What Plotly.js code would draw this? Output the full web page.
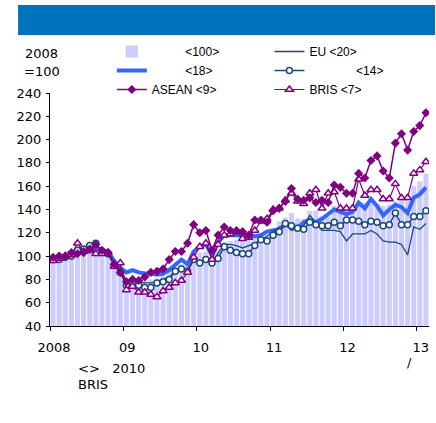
<!DOCTYPE html>
<html>
<head>
<meta charset="utf-8">
<script src="https://cdn.plot.ly/plotly-3.0.1.min.js"></script>
<style>html,body{margin:0;padding:0;background:#fff;}#chart{width:436px;height:423px;}</style>
</head>
<body>
<div id="chart"></div>
<script>
// Monthly index, Jan 2008 .. Feb 2013 (2008 = 100)
const months = Array.from({length: 62}, (_, i) => i + 0.5);
const tickVals = [0, 12, 24, 36, 48, 60];
const tickText = ['2008', '09', '10', '11', '12', '13'];
const yTicks = [40, 60, 80, 100, 120, 140, 160, 180, 200, 220, 240];

const NB = '\u00A0';
const nameWorld = NB.repeat(10) + '<100>';
const nameBlue = NB.repeat(10) + '<18>';
const nameEU = 'EU <20>';
const nameCirc = NB.repeat(14) + '<14>';
const nameASEAN = 'ASEAN <9>';
const nameBRIS = 'BRIS <7>';

const world = [96,97,99,100,101,102,103,102,102,100,92,83,
               79,78,78,79,80,81,84,87,90,93,95,99,
               103,104,102,106,112,113,114,115,116,117,117,118,
               124,130,133,137,132,132,139,139,134,134,143,143,
               142,143,145,146,145,145,143,144,147,150,152,160,
               164,171];
const blue = [97,98,99,101,103,104,104,107,105,104,96,90,
              86,88,86,85,85,84,85,88,92,97,93,104,
              108,110,101,112,118,118,118,117,118,117,118,121,
              122,123,127,126,124,129,131,129,132,136,140,138,
              136,138,146,141,149,143,135,140,144,142,137,150,
              153,159];
const eu = [97,98,99,100,103,104,106,109,106,104,95,89,
            79,79,78,77,77,78,80,82,87,89,88,97,
            94,98,95,103,110,110,109,107,109,111,114,117,
            121,125,127,122,124,126,135,129,122,122,122,121,
            113,119,119,119,122,119,113,112,112,110,101,125,
            123,128];
const circ = [97,97,99,100,105,106,109,111,104,102,92,86,
              75,78,75,73,73,77,78,80,87,89,87,97,
              94,97,94,98,108,105,103,102,102,109,114,113,
              118,121,128,126,124,123,129,127,126,126,129,126,
              131,131,130,127,130,129,126,127,137,127,127,134,
              134,139];
const asean = [99,100,100,103,102,103,106,110,105,103,93,86,
               78,80,79,82,86,87,89,97,104,104,111,127,
               120,122,105,118,125,122,122,121,118,131,131,129,
               139,141,147,158,149,148,150,146,148,146,161,159,
               154,154,171,167,182,186,173,167,197,205,191,207,
               212,223];
const bris = [96,98,100,101,111,104,105,102,102,103,91,94,
              71,74,69,69,67,65,70,73,77,79,86,99,
              108,111,97,110,118,119,121,115,116,122,130,132,
              140,141,148,154,147,145,154,157,141,154,155,141,
              141,141,166,152,157,157,149,149,162,150,150,171,
              174,181];

const navy = '#1B4A7A', purple = '#800080';

const traces = [
  {type:'bar', x: months, y: world, name: nameWorld, legend:'legend',
   marker:{color:'#CCCCFF', line:{width:0}}, hoverinfo:'skip'},
  {type:'scatter', mode:'lines', x: months, y: blue, name: nameBlue, legend:'legend',
   line:{color:'#3366FF', width:4}},
  {type:'scatter', mode:'lines', x: months, y: eu, name: nameEU, legend:'legend2',
   line:{color:navy, width:1.3}},
  {type:'scatter', mode:'lines+markers', x: months, y: circ, name: nameCirc, legend:'legend2',
   line:{color:navy, width:1.5},
   marker:{symbol:'circle', size:6, color:'#ffffff', line:{color:navy, width:1.5}}},
  {type:'scatter', mode:'lines+markers', x: months, y: bris, name: nameBRIS, legend:'legend2',
   line:{color:purple, width:1.2},
   marker:{symbol:'triangle-up', size:7, color:'#ffffff', line:{color:purple, width:1.5}}},
  {type:'scatter', mode:'lines+markers', x: months, y: asean, name: nameASEAN, legend:'legend',
   line:{color:purple, width:1.5},
   marker:{symbol:'diamond', size:7, color:purple}}
];

const legFont = {family:'Liberation Sans, Arial, sans-serif', size:12, color:'#000'};

const layout = {
  width: 436, height: 423,
  margin: {l:50, r:7, t:93, b:97, pad:0},
  paper_bgcolor:'#fff', plot_bgcolor:'#fff',
  font: {family:'DejaVu Sans, sans-serif', size:13, color:'#000'},
  bargap: 0.17,
  showlegend: true,
  legend: {x: (112-50)/380, xanchor:'left', y: (326-37)/233, yanchor:'top',
           orientation:'v', font: legFont, bgcolor:'rgba(0,0,0,0)', tracegroupgap:0},
  legend2: {x: (270-50)/380, xanchor:'left', y: (326-37)/233, yanchor:'top',
           orientation:'v', font: legFont, bgcolor:'rgba(0,0,0,0)', tracegroupgap:0},
  xaxis: {range:[0, 62], tickmode:'array', tickvals: tickVals, ticktext: tickText,
          showgrid:false, zeroline:false, showline:true, linecolor:'#000', linewidth:1,
          ticks:'outside', ticklen:4, tickcolor:'#000', ticklabelstandoff:5, ticklabelshift:4,
          fixedrange:true},
  yaxis: {range:[40, 240], tickmode:'array', tickvals: yTicks,
          showgrid:false, zeroline:false, showline:true, linecolor:'#000', linewidth:1,
          ticks:'outside', ticklen:3, tickcolor:'#000', ticklabelstandoff:2, fixedrange:true},
  shapes: [
    {type:'rect', xref:'paper', yref:'paper', x0:(18-50)/380, x1:(436-50)/380,
     y0:(326-35)/233, y1:(326-5)/233, fillcolor:'#0072BC', line:{width:0}, layer:'above'}
  ],
  annotations: [
    {xref:'paper', yref:'paper', x:(41-50)/380, y:(326-54)/233, text:'2008', showarrow:false,
     xanchor:'center', yanchor:'middle'},
    {xref:'paper', yref:'paper', x:(42-50)/380, y:(326-71)/233, text:'=100', showarrow:false,
     xanchor:'center', yanchor:'middle'},
    {xref:'paper', yref:'paper', x:(76-50)/380, y:(326-368)/233, text:'<>' + NB.repeat(3) + '2010', showarrow:false,
     xanchor:'left', yanchor:'middle'},
    {xref:'paper', yref:'paper', x:(76-50)/380, y:(326-384)/233, text:'BRIS', showarrow:false,
     xanchor:'left', yanchor:'middle'},
    {xref:'paper', yref:'paper', x:(410-50)/380, y:(326-362)/233, text:'/', showarrow:false,
     xanchor:'center', yanchor:'middle'}
  ]
};

Plotly.newPlot('chart', traces, layout, {displayModeBar:false, staticPlot:true});
</script>
</body>
</html>
